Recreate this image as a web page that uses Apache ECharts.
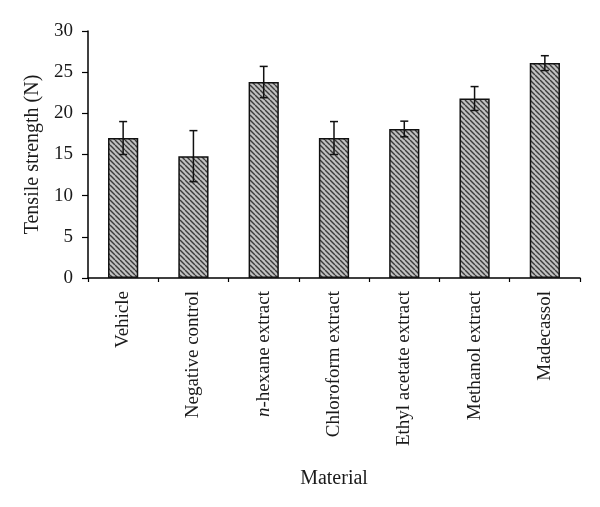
<!DOCTYPE html>
<html>
<head>
<meta charset="utf-8">
<script src="https://cdn.jsdelivr.net/npm/echarts@6/dist/echarts.min.js"></script>
<style>
  html, body { margin: 0; padding: 0; background: #fff; }
  #chart { width: 600px; height: 507px; }
</style>
</head>
<body>
<div id="chart"></div>
<script>
// data
const categories = ['Vehicle', 'Negative control', 'n-hexane extract', 'Chloroform extract',
  'Ethyl acetate extract', 'Methanol extract', 'Madecassol'];
const means = [17.0, 14.8, 23.8, 17.0, 18.1, 21.8, 26.1];
const errors = [2.0, 3.1, 1.9, 2.0, 0.95, 1.45, 0.9];
const yTicks = [0, 5, 10, 15, 20, 25, 30];

// hatch pattern  (\\\ direction)
function makeHatch() {
  const s = 5;
  const c = document.createElement('canvas');
  c.width = s; c.height = s;
  const ctx = c.getContext('2d');
  ctx.fillStyle = '#c0c0c0';
  ctx.fillRect(0, 0, s, s);
  ctx.strokeStyle = '#3a3a3a';
  ctx.lineWidth = 1.4;
  for (let k = -1; k <= 1; k++) {
    ctx.beginPath();
    ctx.moveTo(k * s, 0);
    ctx.lineTo(k * s + s, s);
    ctx.stroke();
  }
  return c;
}

const chart = echarts.init(document.getElementById('chart'));
const font = 'Liberation Serif';

const option = {
  animation: false,
  grid: { left: 88, right: 20, top: 31, bottom: 229, containLabel: false },
  xAxis: {
    type: 'category',
    data: categories,
    name: 'Material',
    nameLocation: 'middle',
    nameGap: 191,
    nameTextStyle: { fontFamily: font, fontSize: 20, color: '#1a1a1a' },
    axisLine: { lineStyle: { color: '#000', width: 1.5 } },
    axisTick: { show: true, length: 4, lineStyle: { color: '#000', width: 1.2 } },
    axisLabel: {
      rotate: 90,
      interval: 0,
      margin: 13,
      fontFamily: font,
      fontSize: 19,
      color: '#1a1a1a',
      formatter: v => v === 'n-hexane extract' ? '{i|n}-hexane extract' : v,
      rich: { i: { fontStyle: 'italic', fontFamily: font, fontSize: 19, color: '#1a1a1a' } }
    }
  },
  yAxis: {
    type: 'value',
    min: yTicks[0],
    max: yTicks[yTicks.length - 1],
    interval: 5,
    name: 'Tensile strength (N)',
    nameLocation: 'middle',
    nameGap: 45,
    nameTextStyle: { fontFamily: font, fontSize: 20, color: '#1a1a1a' },
    axisLine: { show: true, lineStyle: { color: '#000', width: 1.5 } },
    axisTick: { show: true, length: 6, lineStyle: { color: '#000', width: 1.2 } },
    axisLabel: { fontFamily: font, fontSize: 19, color: '#1a1a1a', margin: 15 },
    splitLine: { show: false }
  },
  series: [
    {
      type: 'bar',
      data: means,
      barWidth: '43%',
      itemStyle: {
        color: { image: makeHatch(), repeat: 'repeat' },
        borderColor: '#111',
        borderWidth: 1.5
      }
    },
    {
      type: 'custom',
      data: means.map((m, i) => [i, m - errors[i], m + errors[i]]),
      renderItem: function (params, api) {
        const x = api.value(0);
        const lo = api.coord([x, api.value(1)]);
        const hi = api.coord([x, api.value(2)]);
        const cap = 4;
        const style = { stroke: '#111', lineWidth: 1.5 };
        return {
          type: 'group',
          children: [
            { type: 'line', shape: { x1: hi[0], y1: hi[1], x2: lo[0], y2: lo[1] }, style },
            { type: 'line', shape: { x1: hi[0] - cap, y1: hi[1], x2: hi[0] + cap, y2: hi[1] }, style },
            { type: 'line', shape: { x1: lo[0] - cap, y1: lo[1], x2: lo[0] + cap, y2: lo[1] }, style }
          ]
        };
      },
      z: 10
    }
  ]
};

chart.setOption(option);
</script>
</body>
</html>
